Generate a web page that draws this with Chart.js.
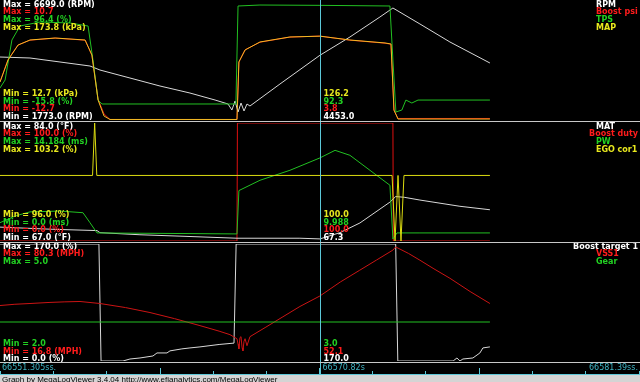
<!DOCTYPE html>
<html>
<head>
<meta charset="utf-8">
<script src="https://cdn.jsdelivr.net/npm/chart.js@4.4.0/dist/chart.umd.min.js"></script>
<style>
  body { margin: 0; background: #000; width: 640px; height: 382px; overflow: hidden; position: relative; }
  canvas { position: absolute; left: 0; display: block; }
  .sep { position: absolute; left: 0; width: 640px; height: 1px; background: #c8c8c8; }
</style>
</head>
<body>
<canvas id="painel1" width="640" height="121" style="top:0"></canvas>
<div class="sep" style="top:121px"></div>
<canvas id="painel2" width="640" height="120" style="top:122px"></canvas>
<div class="sep" style="top:242px"></div>
<canvas id="painel3" width="640" height="119" style="top:243px"></canvas>
<div class="sep" style="top:362px"></div>
<canvas id="linhaTempo" width="640" height="19" style="top:363px"></canvas>
<script>
// tempo em segundos desde o inicio da janela
const T_FIM = 30.085;
const T_CURSOR = 15.04;
const rotulosTempo = ['66551.305ss.', '66570.82s', '66581.39ss.'];
const ticksMaiores = [7.5, 15, 22.5];

// ---- painel 1: RPM, Boost psi, TPS, MAP
const rpmT = [0, 1.41, 2.82, 4.23, 4.70, 6.11, 7.52, 8.93, 10.11, 10.72, 10.90, 11.05, 11.19, 11.33, 11.47, 11.61, 11.75, 13.16, 15.04, 16.45, 17.86, 18.47, 19.74, 21.15, 23.03];
const rpmV = [4380, 4340, 4174, 4008, 3842, 3511, 3180, 2890, 2600, 2435, 2186, 2559, 2103, 2476, 2145, 2435, 2352, 3263, 4453, 5209, 6037, 6409, 5747, 5002, 4132];

const tpsT = [0, 0.24, 0.56, 0.94, 1.88, 3.29, 4.14, 4.37, 4.61, 4.79, 11.09, 11.19, 12.22, 15.04, 18.33, 18.47, 18.61, 18.89, 19.08, 19.36, 19.65, 23.03];
const tpsV = [14.4, 21.9, 59.6, 72.8, 76.6, 75.7, 72.8, 40.8, 3.0, -0.7, -0.7, 91.7, 92.6, 92.3, 91.7, 40.8, -8.3, -6.4, 3.0, 0.2, 3.0, 3.0];

const mapT = [0, 0.38, 0.85, 1.41, 2.59, 4.00, 4.32, 4.61, 4.89, 5.17, 11.14, 11.23, 11.52, 12.22, 13.63, 15.04, 16.45, 18.10, 18.38, 18.52, 18.71, 23.03];
const mapV = [64.1, 94.0, 114.2, 121.0, 123.7, 121.0, 100.7, 39.8, 18.1, 13.4, 13.4, 91.2, 107.5, 118.3, 125.1, 126.2, 121.0, 117.0, 115.6, 26.2, 14.0, 14.0];
const boostV = [-5.2, -0.8, 2.05, 3.0, 3.4, 3.0, 0.05, -8.6, -11.5, -12.6, -12.6, -1.3, 1.1, 2.6, 3.6, 3.8, 3.0, 2.4, 2.2, -10.8, -12.4, -12.4];

// ---- painel 2: MAT, Boost duty, PW, EGO cor1
const matT = [0, 2.35, 4.56, 4.70, 6.58, 8.46, 11.14, 14.10, 15.04, 15.98, 16.92, 18.33, 18.60, 19.0, 19.74, 21.62, 23.03];
const matV = [69.0, 68.7, 68.5, 68.2, 67.9, 67.7, 67.4, 67.4, 67.3, 68.2, 69.6, 72.6, 73.4, 73.3, 72.9, 72.0, 71.5];

const dutyT = [0, 11.14, 11.16, 18.47, 18.49, 23.03];
const dutyV = [0, 0, 100, 100, 0, 0];

const pwT = [0, 0.71, 1.41, 2.82, 3.90, 4.23, 4.56, 11.14, 11.23, 12.22, 13.63, 15.04, 15.75, 16.45, 17.39, 18.33, 18.47, 18.66, 19.74, 21.39, 23.03];
const pwV = [2.2, 3.0, 3.5, 3.6, 3.4, 2.2, 0.97, 0.85, 6.06, 7.3, 8.5, 9.988, 10.9, 10.3, 8.5, 6.7, 0.24, 0.97, 0.97, 0.97, 0.97];

const egoT = [0, 4.35, 4.45, 4.55, 18.43, 18.57, 18.71, 18.85, 18.99, 23.03];
const egoV = [100, 100, 103.2, 100, 100, 96.0, 100, 96.0, 100, 100];

// ---- painel 3: Boost target 1, VSS1, Gear
const alvoT = [0, 4.65, 4.75, 5.78, 6.11, 6.58, 7.19, 7.38, 7.85, 7.99, 8.55, 8.93, 9.40, 10.30, 11.00, 11.10, 18.60, 18.70, 21.30, 21.48, 21.62, 21.76, 22.23, 22.56, 22.70, 23.03];
const alvoV = [170, 170, 0, 0, 2.9, 4.4, 7.3, 11.7, 11.7, 14.7, 17.6, 19.0, 20.5, 24.0, 26.0, 170, 170, 0, 0, 4.4, 0, 2.9, 4.4, 11.7, 19.0, 20.5];

const vssT = [0, 0.7, 1.41, 2.35, 3.05, 3.76, 4.70, 5.9, 7.05, 8.2, 9.40, 10.3, 10.81, 11.14, 11.19, 11.23, 11.28, 11.33, 11.38, 11.42, 11.47, 11.52, 11.61, 11.75, 12.5, 13.3, 14.1, 15.04, 16.0, 16.9, 17.7, 18.47, 18.6, 19.2, 19.74, 20.4, 21.15, 22.1, 23.03];
const vssV = [46.9, 47.6, 48.0, 48.6, 48.9, 49.1, 48.0, 45.8, 43.1, 39.8, 36.0, 33.0, 31.1, 28.9, 26.0, 23.4, 29.5, 30.0, 24.0, 22.3, 27.5, 28.9, 25.1, 30.0, 35.2, 40.8, 46.4, 52.1, 59.7, 66.0, 71.6, 77.0, 78.7, 75.2, 71.5, 66.8, 61.7, 54.5, 48.0];

const gearT = [0, 23.03];
const gearV = [3, 3];

// faixas (min / max) de cada canal
const faixas = {
    rpm: [1773, 6699], boost: [-12.7, 10.7], tps: [-15.8, 96.4], map: [12.7, 173.8],
    mat: [67, 84], duty: [0, 100], pw: [0, 14.184], ego: [96, 103.2],
    alvo: [0, 170], vss: [16.8, 80.3], gear: [2, 5]
};

const BRANCO = '#ffffff', VERMELHO = '#ff1c1c', VERDE = '#22d022', AMARELO = '#e8e81e';

const textos1 = {
    max: [['Max = 6699.0 (RPM)', BRANCO], ['Max = 10.7', VERMELHO], ['Max = 96.4 (%)', VERDE], ['Max = 173.8 (kPa)', AMARELO]],
    min: [['Min = 12.7 (kPa)', AMARELO], ['Min = -15.8 (%)', VERDE], ['Min = -12.7', VERMELHO], ['Min = 1773.0 (RPM)', BRANCO]],
    cursor: ['126.2', '92.3', '3.8', '4453.0'],
    nomes: [['RPM', BRANCO], ['Boost psi', VERMELHO], ['TPS', VERDE], ['MAP', AMARELO]],
    yMax: 4.5, yMin: 94
};
const textos2 = {
    max: [['Max = 84.0 (°F)', BRANCO], ['Max = 100.0 (%)', VERMELHO], ['Max = 14.184 (ms)', VERDE], ['Max = 103.2 (%)', AMARELO]],
    min: [['Min = 96.0 (%)', AMARELO], ['Min = 0.0 (ms)', VERDE], ['Min = 0.0 (%)', VERMELHO], ['Min = 67.0 (°F)', BRANCO]],
    cursor: ['100.0', '9.988', '100.0', '67.3'],
    nomes: [['MAT', BRANCO], ['Boost duty', VERMELHO], ['PW', VERDE], ['EGO cor1', AMARELO]],
    yMax: 4.5, yMin: 93
};
const textos3 = {
    max: [['Max = 170.0 (%)', BRANCO], ['Max = 80.3 (MPH)', VERMELHO], ['Max = 5.0', VERDE]],
    min: [['Min = 2.0', VERDE], ['Min = 16.8 (MPH)', VERMELHO], ['Min = 0.0 (%)', BRANCO]],
    cursor: ['3.0', '52.1', '170.0'],
    nomes: [['Boost target 1', BRANCO], ['VSS1', VERMELHO], ['Gear', VERDE]],
    yMax: 3.7, yMin: 101
};

const PASSO = 7.7;
const COR_CURSOR = '#5cc8d8';

function pontos(t, v) {
    return t.map((x, i) => ({ x, y: v[i] }));
}

function serie(t, v, eixo, cor) {
    return { data: pontos(t, v), yAxisID: eixo, borderColor: cor, borderWidth: 1, pointRadius: 0, tension: 0, fill: false };
}

function pluginTextos(tx) {
    return {
        id: 'textos',
        afterDatasetsDraw(chart) {
            const ctx = chart.ctx;
            const xc = Math.round(chart.scales.x.getPixelForValue(T_CURSOR)) + 0.5;
            ctx.save();
            ctx.strokeStyle = COR_CURSOR;
            ctx.lineWidth = 1;
            ctx.beginPath();
            ctx.moveTo(xc, 0);
            ctx.lineTo(xc, chart.height);
            ctx.stroke();

            ctx.font = 'bold 8px "DejaVu Sans"';
            ctx.textBaseline = 'middle';
            tx.max.forEach(([s, cor], i) => {
                ctx.fillStyle = cor;
                ctx.fillText(s, 3, tx.yMax + i * PASSO);
            });
            tx.min.forEach(([s, cor], i) => {
                ctx.fillStyle = cor;
                ctx.fillText(s, 3, tx.yMin + i * PASSO);
                ctx.fillText(tx.cursor[i], xc + 3, tx.yMin + i * PASSO);
            });
            tx.nomes.forEach(([s, cor], i) => {
                ctx.fillStyle = cor;
                const w = ctx.measureText(s).width;
                ctx.fillText(s, Math.min(596, 638 - w), tx.yMax + i * PASSO);
            });
            ctx.restore();
        }
    };
}

function criarPainel(id, series, eixos, tx) {
    const scales = { x: { type: 'linear', axis: 'x', min: 0, max: T_FIM, display: false } };
    eixos.forEach(nome => {
        scales[nome] = { type: 'linear', axis: 'y', position: 'left', display: false, min: faixas[nome][0], max: faixas[nome][1] };
    });
    return new Chart(document.getElementById(id), {
        type: 'line',
        data: { datasets: series },
        options: {
            responsive: false,
            animation: false,
            events: [],
            layout: { padding: { top: 1, bottom: 1, left: 0, right: 0 } },
            plugins: { legend: { display: false }, tooltip: { enabled: false } },
            scales
        },
        plugins: [pluginTextos(tx)]
    });
}

// o primeiro dataset fica por cima
criarPainel('painel1', [
    serie(mapT, mapV, 'map', '#f0bc24'),
    serie(tpsT, tpsV, 'tps', '#22c022'),
    serie(rpmT, rpmV, 'rpm', '#d8d8d8'),
    serie(mapT, boostV, 'boost', '#e01010')
], ['rpm', 'boost', 'tps', 'map'], textos1);

criarPainel('painel2', [
    serie(egoT, egoV, 'ego', '#dcdc10'),
    serie(pwT, pwV, 'pw', '#22c022'),
    serie(matT, matV, 'mat', '#d8d8d8'),
    serie(dutyT, dutyV, 'duty', '#e01010')
], ['mat', 'duty', 'pw', 'ego'], textos2);

criarPainel('painel3', [
    serie(gearT, gearV, 'gear', '#22c022'),
    serie(vssT, vssV, 'vss', '#cc1414'),
    serie(alvoT, alvoV, 'alvo', '#d8d8d8')
], ['alvo', 'vss', 'gear'], textos3);

// faixa de tempo + rodape
new Chart(document.getElementById('linhaTempo'), {
    type: 'line',
    data: { datasets: [] },
    options: {
        responsive: false,
        animation: false,
        events: [],
        layout: { padding: 0 },
        plugins: { legend: { display: false }, tooltip: { enabled: false } },
        scales: {
            x: { type: 'linear', axis: 'x', min: 0, max: T_FIM, display: false, ticks: { stepSize: 2.5 } },
            y: { display: false }
        }
    },
    plugins: [{
        id: 'tempo',
        afterDraw(chart) {
            const ctx = chart.ctx;
            const x = chart.scales.x;
            ctx.save();
            ctx.strokeStyle = COR_CURSOR;
            ctx.lineWidth = 1;
            ctx.beginPath();
            ctx.moveTo(0, 11.5);
            ctx.lineTo(640, 11.5);
            x.ticks.forEach(tk => {
                const px = Math.min(639, Math.round(x.getPixelForValue(tk.value))) + 0.5;
                const alto = ticksMaiores.includes(tk.value);
                ctx.moveTo(px, alto ? 5 : 8);
                ctx.lineTo(px, 11);
            });
            const xc = Math.round(x.getPixelForValue(T_CURSOR)) + 0.5;
            ctx.moveTo(xc, 0);
            ctx.lineTo(xc, 12);
            ctx.stroke();

            ctx.fillStyle = '#3fb4c4';
            ctx.font = '8px "DejaVu Sans"';
            ctx.textBaseline = 'middle';
            ctx.fillText(rotulosTempo[0], 2, 5);
            ctx.fillText(rotulosTempo[1], xc + 2, 5);
            ctx.textAlign = 'right';
            ctx.fillText(rotulosTempo[2], 638, 5);

            ctx.fillStyle = '#d4d4d4';
            ctx.fillRect(0, 12, 640, 7);
            ctx.fillStyle = '#000';
            ctx.textAlign = 'left';
            ctx.textBaseline = 'top';
            ctx.font = '8px "Liberation Sans"';
            ctx.fillText('Graph by MegaLogViewer 3.4.04 http://www.efianalytics.com/MegaLogViewer', 2, 13);
            ctx.restore();
        }
    }]
});
</script>
</body>
</html>
